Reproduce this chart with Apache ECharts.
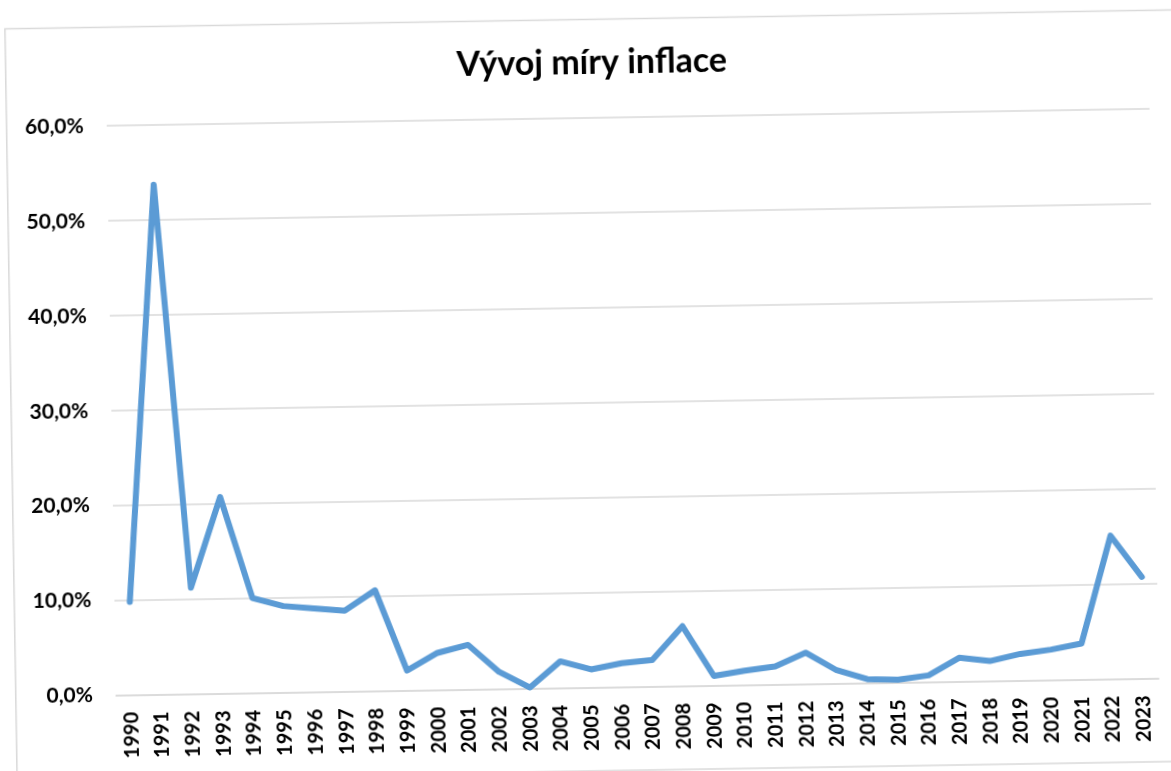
<!DOCTYPE html>
<html>
<head>
<meta charset="utf-8">
<script src="https://cdn.jsdelivr.net/npm/echarts@6/dist/echarts.min.js"></script>
<style>
html,body{margin:0;padding:0;background:#fff;width:1171px;height:771px;overflow:hidden;}
#wrap{position:absolute;left:-15px;top:-15px;width:1201px;height:801px;transform:rotate(-0.93deg);transform-origin:600.5px 400.5px;}
#chart{width:1201px;height:801px;}
</style>
</head>
<body>
<div id="wrap"><div id="chart"></div></div>
<script>
const years = ['1990','1991','1992','1993','1994','1995','1996','1997','1998','1999','2000','2001','2002','2003','2004','2005','2006','2007','2008','2009','2010','2011','2012','2013','2014','2015','2016','2017','2018','2019','2020','2021','2022','2023'];
const inflation = [9.8,53.7,11.2,20.7,10.0,9.1,8.8,8.5,10.6,2.1,3.9,4.7,1.8,0.1,2.8,1.9,2.5,2.8,6.3,1.0,1.5,1.9,3.3,1.4,0.4,0.3,0.7,2.5,2.1,2.8,3.2,3.8,15.1,10.7];
const yTickLabels = ['0,0%','10,0%','20,0%','30,0%','40,0%','50,0%','60,0%'];
const titleText = 'Vývoj míry inflace';

const chart = echarts.init(document.getElementById('chart'), null, {renderer:'canvas'});
chart.setOption({
  backgroundColor: 'transparent',
  animation: false,
  title: {
    text: titleText,
    left: 607, top: 56, textAlign: 'center',
    textStyle: {fontFamily: 'Lato', fontWeight: 'bold', fontSize: 34, color: '#000'}
  },
  graphic: [{
    type: 'rect', silent: true,
    shape: {x: 25.8, y: 34.5, width: 1170, height: 751.5},
    style: {fill: 'none', stroke: '#d9d9d9', lineWidth: 1.5}
  }],
  grid: {left: 126, top: 133, width: 1043, height: 569.5},
  xAxis: {
    type: 'category', data: years, boundaryGap: true,
    axisLine: {lineStyle: {color: '#d9d9d9', width: 1.5}},
    axisTick: {show: false},
    axisLabel: {interval: 0, rotate: 90, margin: 17, color: '#000', fontFamily: 'Lato', fontWeight: 'bold', fontSize: 20}
  },
  yAxis: {
    type: 'value', min: 0, max: 60, interval: 10,
    axisLine: {show: false}, axisTick: {show: false},
    splitLine: {lineStyle: {color: '#d9d9d9', width: 1.5}},
    axisLabel: {margin: 23, color: '#000', fontFamily: 'Lato', fontWeight: 'bold', fontSize: 21,
      formatter: v => yTickLabels[Math.round(v / 10)]}
  },
  series: [{
    type: 'line', data: inflation, symbol: 'none', smooth: false,
    lineStyle: {color: '#5b9bd5', width: 6, cap: 'round', join: 'round'}
  }]
});
</script>
</body>
</html>
